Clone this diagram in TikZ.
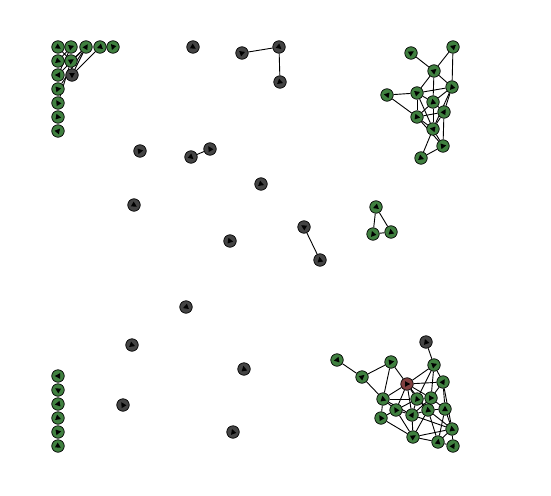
\documentclass[tikz,border=0pt]{standalone}
\usetikzlibrary{backgrounds}
\definecolor{gfill}{RGB}{64,128,64}
\definecolor{dfill}{RGB}{68,68,68}
\definecolor{rfill}{RGB}{128,64,64}
\tikzset{
  vtx/.style={circle, draw=black, line width=0.7pt, minimum size=12.5pt, inner sep=0pt},
  gn/.style={vtx, fill=gfill},
  dn/.style={vtx, fill=dfill},
  rn/.style={vtx, fill=rfill},
  link/.style={draw=black, line width=0.9pt},
  tip/.style={fill=black}
}
\begin{document}
\begin{tikzpicture}[x=1pt,y=-1pt]
\useasboundingbox (0,0) rectangle (551,495);
% green nodes
\foreach \n/\x/\y/\a in {
 t1/58/47/-30, t2/71/47/20, t3/86/47/60, t4/100/47/200, t5/113/47/250,
 t6/58/61/-20, t7/71/61/30, t8/58/75/180, t10/58/89/10, t11/58/103/120,
 t12/58/117/-10, t13/58/131/50,
 g1/376/207/200, g2/373/234/110, g3/391/232/100,
 b1/58/376/180, b2/58/390/150, b3/58/404/190, b4/58/418/-20, b5/58/432/10, b6/58/446/-30,
 r1/411/53/30, r2/453/47/160, r3/434/71/40, r4/387/95/170, r5/417/93/20, r6/452/87/110,
 r7/433/102/100, r8/444/112/60, r9/417/117/-10, r10/433/129/170, r11/443/146/10, r12/421/158/-20,
 qB/337/360/190, qC/391/362/10, qD/434/365/20, qE/362/377/40, qF/443/382/60,
 qG/383/399/100, qH/417/399/110, qI/431/398/0, qJ/396/410/120, qK/412/415/60,
 qL/428/410/100, qM/445/409/90, qN/381/418/120, qO/452/429/100, qP/413/437/30,
 qQ/438/442/80, qS/453/446/60}{
  \node[gn] (\n) at (\x,\y) {};
  \fill[tip, shift={(\n.center)}, rotate=\a] (3.2,0) -- (-2,2.8) -- (-2,-2.8) -- cycle;
}
% dark nodes
\foreach \n/\x/\y/\a in {
 t9/72/75/-90, d1/193/47/-30, d2/242/53/20, d3/279/47/-40, d4/280/82/-20,
 d5/140/151/10, d6/191/157/-40, d7/210/149/120, d8/261/184/-20, d9/134/205/-30,
 d10/230/241/-10, d11/304/227/150, d12/320/260/100, d13/186/307/200,
 d14/132/345/-20, d15/244/369/100, d16/123/405/120, d17/233/432/110, qA/426/342/110}{
  \node[dn] (\n) at (\x,\y) {};
  \fill[tip, shift={(\n.center)}, rotate=\a] (3.2,0) -- (-2,2.8) -- (-2,-2.8) -- cycle;
}
% red node
\node[rn] (qR) at (407,384) {};
\fill[tip, shift={(qR.center)}, rotate=0] (3.2,0) -- (-2,2.8) -- (-2,-2.8) -- cycle;
% edges
\begin{scope}[on background layer]
\foreach \a/\b in {
 t9/t4, t9/t3, t10/t3, t11/t7, t7/t3, t8/t3, t6/t2, t1/t7, t8/t2, t9/t7,
 d2/d3, d3/d4, d6/d7, d11/d12,
 g1/g2, g1/g3, g2/g3,
 r1/r3, r2/r3, r2/r6, r3/r5, r3/r6, r3/r7, r4/r5, r4/r9, r5/r6, r5/r7, r5/r9, r5/r10,
 r6/r7, r6/r8, r6/r10, r7/r8, r7/r9, r7/r10, r8/r9, r8/r10, r8/r11, r9/r10, r9/r11,
 r10/r11, r10/r12, r11/r12,
 qA/qD, qB/qE, qE/qC, qE/qG, qC/qR, qC/qG, qR/qD, qR/qF, qR/qG, qR/qH, qR/qI, qR/qJ,
 qR/qK, qR/qL, qD/qF, qD/qH, qD/qI, qF/qI, qF/qM, qF/qO, qG/qH, qG/qJ, qG/qN, qG/qK,
 qH/qI, qH/qJ, qH/qK, qH/qL, qI/qL, qI/qM, qI/qK, qJ/qK, qJ/qN, qJ/qP, qK/qL, qK/qP,
 qK/qO, qL/qM, qL/qO, qL/qQ, qL/qP, qM/qO, qM/qQ, qN/qP, qP/qQ, qP/qO, qO/qS, qQ/qS, qO/qQ}{
  \draw[link] (\a) -- (\b);
}
\end{scope}
\end{tikzpicture}
\end{document}
